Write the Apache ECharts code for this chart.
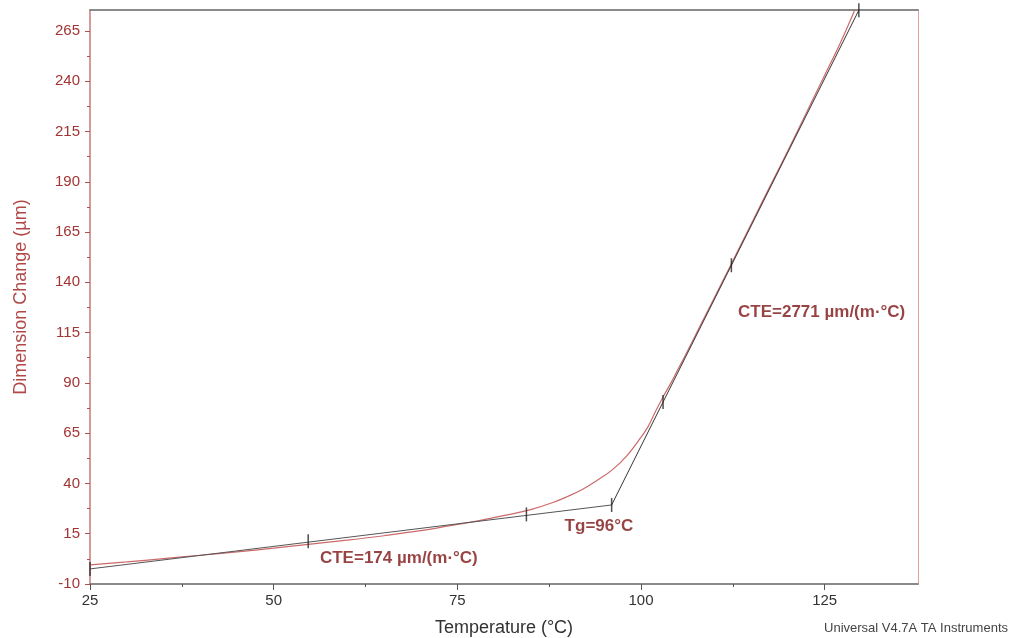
<!DOCTYPE html>
<html>
<head>
<meta charset="utf-8">
<script src="https://cdn.jsdelivr.net/npm/echarts@6/dist/echarts.min.js"></script>
<style>html,body{margin:0;padding:0;background:#fff}#c{width:1011px;height:638px}</style>
</head>
<body>
<div id="c"></div>
<script>
// Measured curve: temperature (°C) and dimension change (µm)
const curveT = [25,30,35,40,45,50,55,60,65,70,74,78,82,85,88,90,92,94,96,98,100,101,102,103,104,105,106,108,110,112,115,118,120,122,125,127,129.1];
const curveD = [-0.5,1.0,2.6,4.3,6.0,7.8,9.8,11.8,14.0,16.5,19.0,21.5,24.5,27.0,30.5,33.5,37.0,41.5,46.5,53.5,63.0,68.5,76.0,83.0,89.5,96.5,103.5,118.0,132.5,147.0,169.0,191.0,205.5,220.5,243.0,258.0,275.4];
// Tangent construction lines
const lowTangentT = [25, 96];
const lowTangentD = [-2.5, 29.3];
const highTangentT = [96, 129.65];
const highTangentD = [29.3, 275.3];
// Fit range markers
const markerT = [25, 54.7, 84.4, 96, 103, 112.3, 129.65];
const markerD = [-2.5, 11.3, 24.6, 29.3, 80.5, 148.5, 275.3];
// Annotations
const noteText = ['CTE=174 µm/(m·°C)', 'Tg=96°C', 'CTE=2771 µm/(m·°C)'];
const noteT = [56.3, 89.6, 113.2];
const noteD = [2.6, 18.5, 125.0];
// Axes
const xMin = 25, xMax = 137.7;
const yMin = -10, yMax = 275.4;
const xMajor = [25, 50, 75, 100, 125];
const xMinor = [37.5, 62.5, 87.5, 112.5];
const yMajor = [-10, 15, 40, 65, 90, 115, 140, 165, 190, 215, 240, 265];
const yMinor = [2.5, 27.5, 52.5, 77.5, 102.5, 127.5, 152.5, 177.5, 202.5, 227.5, 252.5];

const zip = (a, b) => a.map((v, i) => [v, b[i]]);
const FONT = '"Liberation Sans", Arial, sans-serif';
const RED_TXT = '#a33434';
const chart = echarts.init(document.getElementById('c'), null, {renderer: 'canvas'});

const hidden = {show: false};
chart.setOption({
  animation: false,
  backgroundColor: '#fff',
  grid: {left: 90, right: 93, top: 10, bottom: 54, containLabel: false, outerBoundsMode: 'none'},
  xAxis: [
    {type: 'value', min: xMin, max: xMax, position: 'bottom',
     name: 'Temperature (°C)', nameLocation: 'middle', nameGap: 35,
     nameTextStyle: {fontFamily: FONT, fontSize: 18, color: '#333'},
     axisLine: {show: true, onZero: false, lineStyle: {color: '#8a8a8a', width: 2}},
     axisTick: {show: true, customValues: xMajor, length: 6, inside: false, lineStyle: {color: '#555', width: 1}},
     axisLabel: {show: true, customValues: xMajor, fontFamily: FONT, fontSize: 15, color: '#333', margin: 9},
     splitLine: hidden},
    {type: 'value', min: xMin, max: xMax, position: 'bottom',
     axisLine: {show: false, onZero: false}, axisLabel: hidden, splitLine: hidden,
     axisTick: {show: true, customValues: xMinor, length: 3, lineStyle: {color: '#555', width: 1}}},
    {type: 'value', min: xMin, max: xMax, position: 'top',
     axisLine: {show: true, onZero: false, lineStyle: {color: '#8a8a8a', width: 2}},
     axisTick: hidden, axisLabel: hidden, splitLine: hidden}
  ],
  yAxis: [
    {type: 'value', min: yMin, max: yMax, position: 'left',
     name: 'Dimension Change (µm)', nameLocation: 'middle', nameGap: 60,
     nameTextStyle: {fontFamily: FONT, fontSize: 18, color: '#b04848'},
     axisLine: {show: true, onZero: false, lineStyle: {color: '#c87878', width: 1.5}},
     axisTick: {show: true, customValues: yMajor, length: 5, lineStyle: {color: '#b05050', width: 1}},
     axisLabel: {show: true, customValues: yMajor, fontFamily: FONT, fontSize: 15, color: RED_TXT, margin: 10},
     splitLine: hidden},
    {type: 'value', min: yMin, max: yMax, position: 'left',
     axisLine: {show: false, onZero: false}, axisLabel: hidden, splitLine: hidden,
     axisTick: {show: true, customValues: yMinor, length: 3, lineStyle: {color: '#b05050', width: 1}}},
    {type: 'value', min: yMin, max: yMax, position: 'right',
     axisLine: {show: true, onZero: false, lineStyle: {color: '#e0a0a0', width: 1}},
     axisTick: hidden, axisLabel: hidden, splitLine: hidden}
  ],
  graphic: [{
    type: 'text', right: 3, bottom: 3,
    style: {text: 'Universal V4.7A TA Instruments', fontFamily: FONT, fontSize: 13, fill: '#444'}
  }],
  series: [
    {type: 'line', name: 'curve', data: zip(curveT, curveD), smooth: 0.4, showSymbol: false,
     lineStyle: {color: '#cc6a6a', width: 1.2}, z: 2},
    {type: 'line', name: 'low', data: zip(lowTangentT, lowTangentD), showSymbol: false,
     lineStyle: {color: '#555', width: 1}, z: 3},
    {type: 'line', name: 'high', data: zip(highTangentT, highTangentD), showSymbol: false,
     lineStyle: {color: '#333', width: 1}, z: 3},
    {type: 'scatter', name: 'markers', data: zip(markerT, markerD), symbol: 'rect', symbolSize: [1.5, 14],
     itemStyle: {color: '#222'}, z: 4},
    {type: 'scatter', name: 'notes', symbolSize: 0,
     data: noteText.map((t, i) => ({value: [noteT[i], noteD[i]], label: {formatter: t}})),
     label: {show: true, position: 'right', distance: 0, fontFamily: FONT, fontSize: 17, fontWeight: 'bold', color: '#7e1414'},
     z: 5}
  ]
});
</script>
</body>
</html>
